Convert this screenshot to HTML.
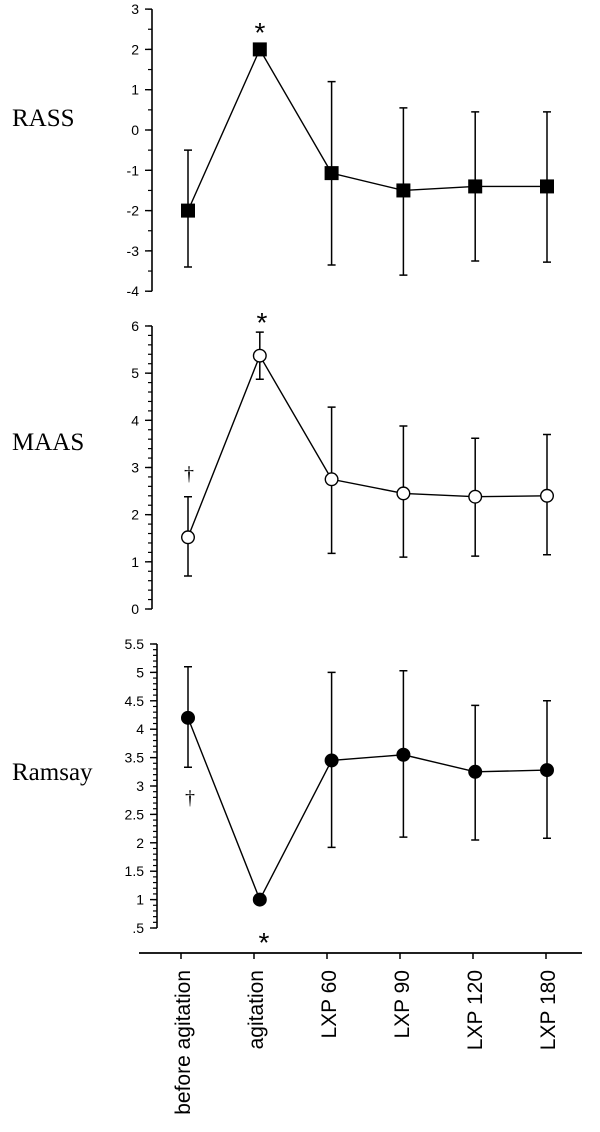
<!DOCTYPE html>
<html><head><meta charset="utf-8"><style>body{margin:0;background:#fff}svg{display:block}</style></head>
<body>
<svg id="chart" width="600" height="1132" xmlns="http://www.w3.org/2000/svg" font-family="Liberation Sans, sans-serif"></svg>
<script>
const categories = ["before agitation","agitation","LXP 60","LXP 90","LXP 120","LXP 180"];
const rassMean = [-2, 2, -1.07, -1.5, -1.4, -1.4];
const rassUp = [-0.5, null, 1.2, 0.55, 0.45, 0.45];
const rassLo = [-3.4, null, -3.35, -3.6, -3.25, -3.28];
const maasMean = [1.52, 5.37, 2.75, 2.45, 2.38, 2.4];
const maasUp = [2.38, 5.87, 4.28, 3.88, 3.62, 3.7];
const maasLo = [0.7, 4.87, 1.18, 1.1, 1.12, 1.15];
const ramMean = [4.2, 1.0, 3.45, 3.55, 3.25, 3.28];
const ramUp = [5.1, null, 5.0, 5.03, 4.42, 4.5];
const ramLo = [3.33, null, 1.92, 2.1, 2.05, 2.08];
const rassTicks = [3,2,1,0,-1,-2,-3,-4];
const maasTicks = [0,1,2,3,4,5,6];
const ramTicks = [0.5,1,1.5,2,2.5,3,3.5,4,4.5,5,5.5];

const svg = document.getElementById('chart');
const NS = "http://www.w3.org/2000/svg";
function mk(tag, attrs, parent){const e=document.createElementNS(NS,tag);for(const k in attrs)e.setAttribute(k,attrs[k]);(parent||svg).appendChild(e);return e;}
function xm(i){return 188 + i*71.8;}
function xt(i){return 181 + i*73;}

const panels = [
 {name:'rass', title:'RASS', ty:126, ax:152, y:v=>130-40.3*v, min:-4, max:3, minor:0.5, ticks:rassTicks, fmt:v=>String(v), mean:rassMean, up:rassUp, lo:rassLo, marker:'square'},
 {name:'maas', title:'MAAS', ty:450, ax:152, y:v=>609-47.17*v, min:0, max:6, minor:0.2, ticks:maasTicks, fmt:v=>String(v), mean:maasMean, up:maasUp, lo:maasLo, marker:'open'},
 {name:'ramsay', title:'Ramsay', ty:780, ax:157, y:v=>928-(v-0.5)*56.8, min:0.5, max:5.5, minor:0.1, ticks:ramTicks, fmt:v=>v===0.5?'.5':String(v), mean:ramMean, up:ramUp, lo:ramLo, marker:'filled'}
];

panels.forEach(p=>{
  const g = mk('g',{});
  
  
  const t = mk('text',{x:12,y:p.ty,'font-family':'Liberation Serif, serif','font-size':25},g);
  t.textContent=p.title;
  
  
  const axl = mk('line',{x1:p.ax,x2:p.ax,y1:p.y(p.max),y2:p.y(p.min),stroke:'#000','stroke-width':1.6},g);
  
  
  const n = Math.round((p.max-p.min)/p.minor);
  for(let k=0;k<=n;k++){const v=p.min+k*p.minor;const yy=p.y(v);
    mk('line',{x1:p.ax-4,x2:p.ax,y1:yy,y2:yy,stroke:'#000','stroke-width':1.2},g);}
  p.ticks.forEach(v=>{const yy=p.y(v);
    mk('line',{x1:p.ax-7,x2:p.ax,y1:yy,y2:yy,stroke:'#000','stroke-width':1.4},g);
    const tl=mk('text',{x:p.ax-13,y:yy+5,'text-anchor':'end','font-size':14},g);
    tl.textContent=p.fmt(v);
    
    
  });
  p.mean.forEach((m,i)=>{
    if(p.up[i]!==null){
      const x=xm(i);
      const eb=mk('path',{d:`M${x},${p.y(p.up[i])}V${p.y(p.lo[i])}M${x-4},${p.y(p.up[i])}h8M${x-4},${p.y(p.lo[i])}h8`,stroke:'#000','stroke-width':1.5,fill:'none'},g);
      
      
    }
  });
  const ln=mk('polyline',{points:p.mean.map((m,i)=>xm(i)+','+p.y(m)).join(' '),fill:'none',stroke:'#000','stroke-width':1.4},g);
  
  
  p.mean.forEach((m,i)=>{
    let e;
    if(p.marker==='square') e=mk('rect',{x:xm(i)-7,y:p.y(m)-7,width:14,height:14,fill:'#000'},g);
    else e=mk('circle',{cx:xm(i),cy:p.y(m),r:6.3,fill:p.marker==='open'?'#fff':'#000',stroke:'#000','stroke-width':1.4},g);
    
    
  });
});

function txt(x,y,s,size,name,fam){const t=mk('text',{x:x,y:y,'text-anchor':'middle','font-size':size,'font-family':fam||'Liberation Sans, sans-serif'});t.textContent=s;
  
  }
txt(260,42,'*',28,'rass-significance-mark');
txt(262,332,'*',28,'maas-significance-mark');
txt(264,952,'*',28,'ramsay-significance-mark');
txt(189,480,'†',20,'maas-dagger-mark','Liberation Serif, serif');
txt(190,804,'†',20,'ramsay-dagger-mark','Liberation Serif, serif');

const xa=mk('line',{x1:139,x2:582,y1:953,y2:953,stroke:'#000','stroke-width':1.8});


categories.forEach((c,i)=>{
  const x=xt(i);
  mk('line',{x1:x,x2:x,y1:953,y2:959,stroke:'#000','stroke-width':1.5});
  const t=mk('text',{x:0,y:0,'text-anchor':'end','font-size':21,transform:`translate(${x+9},970) rotate(-90)`});
  t.textContent=c;
  
  
});
</script>
</body></html>
